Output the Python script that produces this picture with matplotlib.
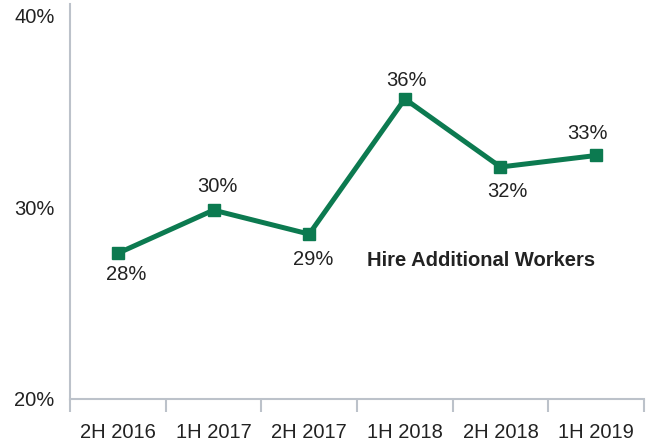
import numpy as np
import matplotlib
matplotlib.use("Agg")
import matplotlib.pyplot as plt

# Half-year survey: share planning to hire additional workers
periods = ["2H 2016", "1H 2017", "2H 2017", "1H 2018", "2H 2018", "1H 2019"]
hire_pct = [27.6, 29.85, 28.6, 35.65, 32.1, 32.7]
# label offsets (points) relative to each marker
label_dx = [6, 3, 3, 1, 5, -6]
label_dy = [-15, 17, -18, 13, -18, 16]

GREEN = "#0c7a50"
GRID = "#bcc2ca"
TEXT = "#222222"

plt.rcParams["font.family"] = ["Liberation Sans", "DejaVu Sans"]

fig = plt.figure(figsize=(6.5, 4.43), dpi=100)
ax = fig.add_axes([70 / 650, 1 - 399 / 443, 574 / 650, 395 / 443])

x = np.arange(len(periods))
ax.plot(x, hire_pct, color=GREEN, lw=3.6, marker="s", ms=9, zorder=3)

for xi, v, dx, dy in zip(x, hire_pct, label_dx, label_dy):
    ax.annotate(f"{v:.0f}%", (xi, v), xytext=(dx, dy), textcoords="offset points",
                ha="center", va="center", fontsize=14.5, color=TEXT)

ax.text(3.8, 27.2, "Hire Additional Workers", ha="center", va="center",
        fontsize=14.5, fontweight="bold", color=TEXT)

ax.set_xlim(-0.5, len(periods) - 0.5)
ax.set_ylim(20, 40.6)

ax.set_xticks(x)
ax.set_xticklabels(periods)
ax.set_xticks(np.arange(len(periods) + 1) - 0.5, minor=True)
ax.tick_params(axis="x", which="major", length=0, pad=17, labelsize=14.5, labelcolor=TEXT)
ax.tick_params(axis="x", which="minor", length=9, width=1.5, color=GRID)

ax.set_yticks([20, 30, 40])
ax.set_yticklabels(["20%", "30%", "40%"])
ax.tick_params(axis="y", length=0, pad=11, labelsize=14.5, labelcolor=TEXT)

for side in ("top", "right"):
    ax.spines[side].set_visible(False)
for side in ("left", "bottom"):
    ax.spines[side].set_color(GRID)
    ax.spines[side].set_linewidth(1.5)

fig.savefig("out.png", dpi=100)
